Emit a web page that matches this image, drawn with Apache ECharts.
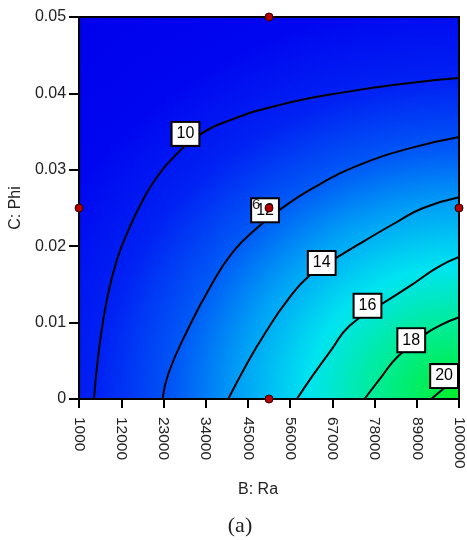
<!DOCTYPE html>
<html>
<head>
<meta charset="utf-8">
<script src="https://cdn.jsdelivr.net/npm/echarts@6/dist/echarts.min.js"></script>
<style>
  html, body { margin: 0; padding: 0; background: #fff; }
  #chart { width: 467px; height: 540px; }
</style>
</head>
<body>
<div id="chart"></div>
<script>
// ---- axes ----
const RA_MIN = 1000, RA_MAX = 100000, RA_STEP = 11000;
const PHI_MIN = 0, PHI_MAX = 0.05, PHI_STEP = 0.01;

// ---- contour lines: Ra values and Phi values ----
const contourLevels = [10, 12, 14, 16, 18, 20];
const c10Ra  = [4887, 6183, 8256, 10848, 13958, 17068, 20955, 26138, 31840, 40392, 53350, 70714, 87819, 100000];
const c10Phi = [0, 0.0064, 0.0130, 0.0182, 0.0222, 0.0255, 0.0288, 0.0319, 0.0344, 0.0365, 0.0385, 0.0402, 0.0414, 0.0420];
const c12Ra  = [22770, 24324, 29249, 35209, 41170, 47649, 52832, 61903, 74861, 87819, 100000];
const c12Phi = [0, 0.0034, 0.0090, 0.0147, 0.0193, 0.0225, 0.0246, 0.0276, 0.0308, 0.0329, 0.0343];
const c14Ra  = [39874, 44280, 49462, 55424, 61125, 68122, 75379, 83931, 90669, 100000];
const c14Phi = [0, 0.0042, 0.0086, 0.0130, 0.0162, 0.0185, 0.0207, 0.0232, 0.0250, 0.0264];
const c16Ra  = [57756, 61643, 66827, 71492, 79785, 87559, 94298, 100000];
const c16Phi = [0, 0.0029, 0.0065, 0.0096, 0.0124, 0.0149, 0.0172, 0.0186];
const c18Ra  = [75379, 79785, 83931, 90929, 95335, 100000];
const c18Phi = [0, 0.0029, 0.0055, 0.0084, 0.0097, 0.0107];
const c20Ra  = [92743, 96111, 100000];
const c20Phi = [0, 0.0014, 0.0030];

// ---- contour value labels ----
const labelRa   = [28730, 49462, 64235, 76156, 87559, 96111];
const labelPhi  = [0.0347, 0.0247, 0.0178, 0.0122, 0.0077, 0.0030];
const labelText = ['10', '12', '14', '16', '18', '20'];

// ---- design points ----
const designRa  = [1000, 50500, 50500, 50500, 100000];
const designPhi = [0.025, 0.05, 0.025, 0, 0.025];
const replicateRa = [47131], replicatePhi = [0.0254], replicateText = ['6'];

const FONT = 'Liberation Sans, Arial, sans-serif';
const contours = [
  [c10Ra, c10Phi], [c12Ra, c12Phi], [c14Ra, c14Phi],
  [c16Ra, c16Phi], [c18Ra, c18Phi], [c20Ra, c20Phi]
];
const toX = v => v - RA_MIN;

const chart = echarts.init(document.getElementById('chart'), null, { renderer: 'canvas' });

const series = [];

// background colour field (style only), elliptical radial gradient from lower-right corner
series.push({
  type: 'custom',
  z: 1,
  silent: true,
  clip: false,
  data: [[0, 0]],
  renderItem: function (params, api) {
    const p0 = api.coord([0, PHI_MAX]);
    const p1 = api.coord([RA_MAX - RA_MIN, PHI_MIN]);
    const w = p1[0] - p0[0], h = p1[1] - p0[1];
    const sx = 1.14;
    const R = 510 * h / 382;
    const grad = new echarts.graphic.RadialGradient(0, 0, R, [
      { offset: 0.00, color: 'rgb(0,240,40)' },
      { offset: 0.05, color: 'rgb(0,238,80)' },
      { offset: 0.15, color: 'rgb(0,236,155)' },
      { offset: 0.26, color: 'rgb(0,228,240)' },
      { offset: 0.38, color: 'rgb(0,160,246)' },
      { offset: 0.49, color: 'rgb(0,88,246)' },
      { offset: 0.62, color: 'rgb(0,34,243)' },
      { offset: 0.78, color: 'rgb(0,6,240)' },
      { offset: 1.00, color: 'rgb(0,0,236)' }
    ], true);
    return {
      type: 'group',
      children: [
        {
          type: 'rect',
          x: p1[0], y: p1[1], scaleX: sx, scaleY: 1,
          shape: { x: -w / sx, y: -h, width: w / sx, height: h },
          style: { fill: grad }
        },
        {
          type: 'rect',
          z2: 50,
          shape: { x: p0[0], y: p0[1], width: w, height: h },
          style: { fill: null, stroke: '#000', lineWidth: 2 }
        }
      ]
    };
  }
});

contours.forEach(function (c, i) {
  series.push({
    type: 'line',
    name: String(contourLevels[i]),
    z: 2,
    data: c[0].map((r, k) => [toX(r), c[1][k]]),
    showSymbol: false,
    symbol: 'none',
    smooth: 0.5,
    lineStyle: { color: '#000', width: 2 },
    silent: true
  });
});

series.push({
  type: 'scatter',
  z: 3,
  symbol: 'circle',
  symbolSize: 1,
  itemStyle: { color: 'rgba(0,0,0,0)', opacity: 1 },
  clip: false,
  data: labelRa.map((r, k) => [toX(r), labelPhi[k], labelText[k]]),
  label: {
    show: true,
    position: 'inside',
    opacity: 1,
    formatter: p => p.data[2],
    fontSize: 16,
    fontFamily: FONT,
    color: '#000',
    backgroundColor: '#fff',
    borderColor: '#000',
    borderWidth: 2,
    padding: [4, 4, 2, 4]
  }
});

series.push({
  type: 'scatter',
  z: 4,
  symbol: 'circle',
  symbolSize: 1,
  itemStyle: { color: 'rgba(0,0,0,0)', opacity: 1 },
  clip: false,
  data: replicateRa.map((r, k) => [toX(r), replicatePhi[k], replicateText[k]]),
  label: {
    show: true,
    position: 'inside',
    opacity: 1,
    formatter: p => p.data[2],
    fontSize: 15,
    fontFamily: FONT,
    color: '#222'
  }
});

series.push({
  type: 'scatter',
  z: 5,
  symbol: 'circle',
  symbolSize: 8,
  clip: false,
  data: designRa.map((r, k) => [toX(r), designPhi[k]]),
  itemStyle: { color: '#b00000', borderColor: '#300', borderWidth: 1, opacity: 1 }
});

const option = {
  animation: false,
  backgroundColor: '#fff',
  grid: { left: 78, top: 17, width: 382, height: 382 },
  xAxis: {
    type: 'value',
    min: 0, max: RA_MAX - RA_MIN, interval: RA_STEP,
    name: 'B: Ra', nameLocation: 'middle', nameGap: 83,
    nameTextStyle: { fontSize: 16, color: '#222', fontFamily: FONT, padding: [0, 22, 0, 0] },
    axisLine: { show: true, lineStyle: { color: '#000', width: 2 } },
    axisTick: { show: true, length: 9, lineStyle: { color: '#000', width: 2 } },
    axisLabel: {
      rotate: -90, margin: 18, fontSize: 15.5, color: '#222', fontFamily: FONT,
      formatter: v => String(v + RA_MIN)
    },
    splitLine: { show: false }
  },
  yAxis: {
    type: 'value',
    min: PHI_MIN, max: PHI_MAX, interval: PHI_STEP,
    name: 'C: Phi', nameLocation: 'middle', nameRotate: 90, nameGap: 40,
    nameTextStyle: { fontSize: 16, color: '#222', fontFamily: FONT },
    axisLine: { show: true, lineStyle: { color: '#000', width: 2 } },
    axisTick: { show: true, length: 10, lineStyle: { color: '#000', width: 2 } },
    axisLabel: { margin: 13, fontSize: 16, color: '#222', fontFamily: FONT },
    splitLine: { show: false }
  },
  graphic: [{
    type: 'text',
    x: 240, y: 526,
    style: {
      text: '(a)', fontSize: 22, fontFamily: 'Liberation Serif, DejaVu Serif, serif',
      fill: '#222', textAlign: 'center', textVerticalAlign: 'middle'
    }
  }],
  series: series
};

chart.setOption(option);
</script>
</body>
</html>
